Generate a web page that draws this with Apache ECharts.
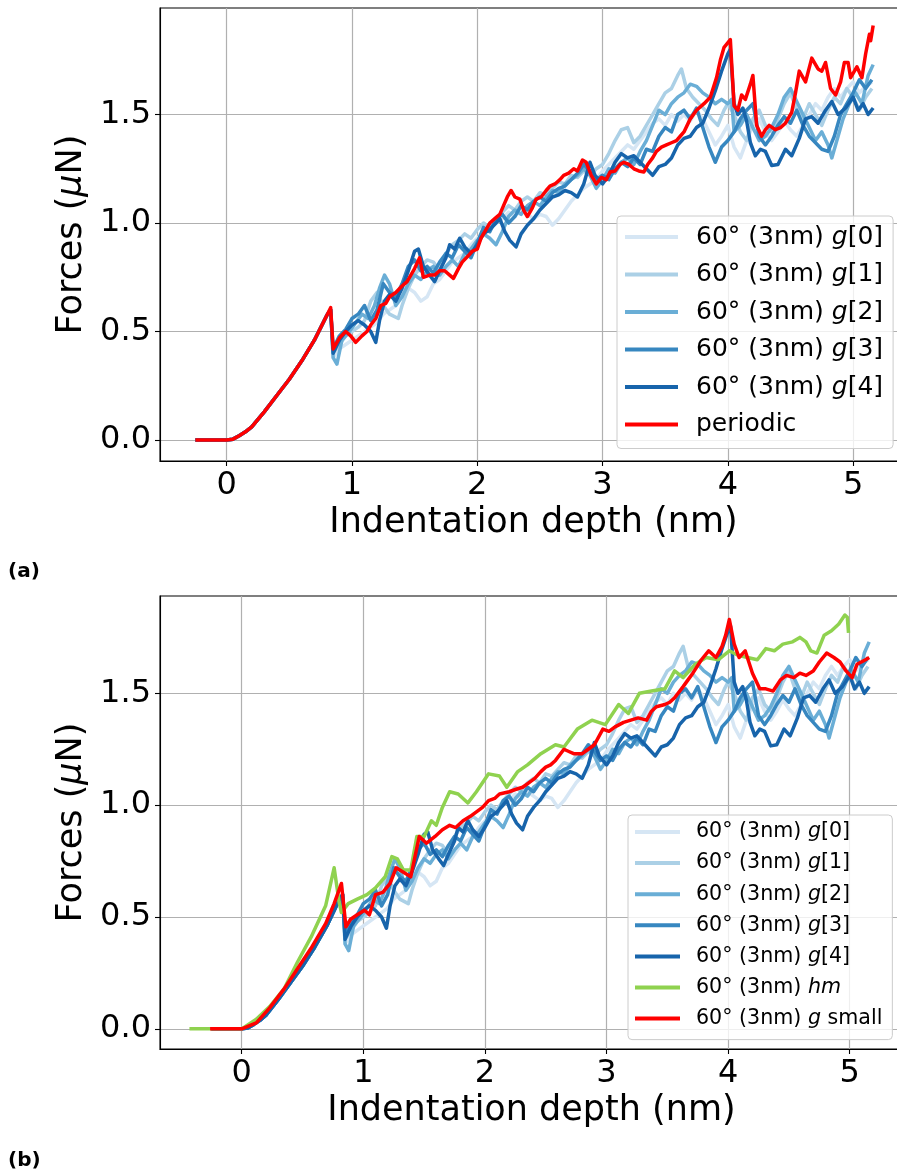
<!DOCTYPE html>
<html><head><meta charset="utf-8">
<script src="https://cdn.jsdelivr.net/npm/echarts@6/dist/echarts.min.js"></script>
<style>html,body{margin:0;padding:0;background:#fff}#c{width:897px;height:1176px}</style>
</head><body><div id="c"></div>
<script>
const xTicks = [0, 1, 2, 3, 4, 5];
const yTicks = [0, 0.5, 1.0, 1.5];
const gNames = ['60° (3nm) g[0]', '60° (3nm) g[1]', '60° (3nm) g[2]', '60° (3nm) g[3]', '60° (3nm) g[4]'];
const gColors = ['#d6e6f4', '#abd0e6', '#6aaed6', '#3787c0', '#1764ab'];
const periodicName = 'periodic';
const hmName = '60° (3nm) hm';
const smallName = '60° (3nm) g small';

const riseG = [[-0.25,0],[0,0],[0.05,0.004],[0.1,0.02],[0.15,0.038],[0.2,0.061],[0.3,0.13],[0.4,0.205],[0.5,0.28],[0.6,0.365],[0.7,0.46],[0.8,0.575],[0.83,0.60]];

const g0Tail = [[0.85,0.38],[0.9,0.42],[0.95,0.44],[1.0,0.46],[1.05,0.48],[1.1,0.50],[1.15,0.52],[1.2,0.54],[1.25,0.58],[1.3,0.60],[1.35,0.62],[1.4,0.66],[1.45,0.70],[1.5,0.68],[1.55,0.64],[1.6,0.66],[1.65,0.72],[1.7,0.74],[1.75,0.78],[1.8,0.82],[1.85,0.84],[1.9,0.86],[1.95,0.90],[2.0,0.93],[2.05,0.95],[2.1,0.98],[2.15,1.0],[2.2,1.02],[2.25,1.05],[2.3,1.03],[2.35,1.06],[2.4,1.04],[2.45,1.02],[2.5,1.04],[2.55,1.03],[2.6,0.99],[2.65,1.02],[2.7,1.06],[2.75,1.10],[2.8,1.13],[2.85,1.16],[2.9,1.18],[2.95,1.20],[3.0,1.24],[3.05,1.27],[3.1,1.30],[3.15,1.33],[3.2,1.36],[3.25,1.34],[3.3,1.38],[3.35,1.42],[3.4,1.46],[3.45,1.48],[3.5,1.45],[3.55,1.50],[3.6,1.47],[3.65,1.50],[3.7,1.47],[3.75,1.52],[3.8,1.48],[3.85,1.42],[3.9,1.36],[3.95,1.40],[4.0,1.45],[4.05,1.35],[4.1,1.30],[4.15,1.38],[4.2,1.45],[4.25,1.48],[4.3,1.42],[4.35,1.38],[4.4,1.42],[4.45,1.47],[4.5,1.43],[4.55,1.40],[4.6,1.45],[4.65,1.50],[4.7,1.55],[4.75,1.52],[4.8,1.58],[4.85,1.62],[4.9,1.58],[4.95,1.62],[5.0,1.65],[5.05,1.60],[5.1,1.63],[5.15,1.65]];

const g1Tail = [[0.85,0.40],[0.9,0.44],[0.95,0.48],[1.0,0.50],[1.05,0.52],[1.1,0.55],[1.15,0.64],[1.2,0.68],[1.25,0.62],[1.3,0.58],[1.37,0.56],[1.4,0.62],[1.45,0.70],[1.5,0.76],[1.55,0.80],[1.6,0.83],[1.65,0.82],[1.7,0.78],[1.75,0.86],[1.8,0.90],[1.85,0.92],[1.9,0.95],[1.95,0.93],[2.0,0.97],[2.05,1.0],[2.1,0.98],[2.15,1.02],[2.2,1.05],[2.25,1.08],[2.3,1.06],[2.35,1.10],[2.4,1.12],[2.45,1.10],[2.5,1.14],[2.55,1.13],[2.6,1.16],[2.65,1.19],[2.7,1.18],[2.75,1.22],[2.8,1.21],[2.85,1.24],[2.9,1.22],[2.95,1.25],[3.0,1.27],[3.05,1.32],[3.1,1.38],[3.15,1.43],[3.2,1.44],[3.25,1.37],[3.3,1.40],[3.35,1.45],[3.4,1.50],[3.45,1.55],[3.5,1.60],[3.55,1.62],[3.6,1.68],[3.63,1.71],[3.67,1.62],[3.72,1.58],[3.77,1.55],[3.82,1.52],[3.87,1.48],[3.92,1.45],[3.97,1.52],[4.0,1.55],[4.05,1.50],[4.1,1.42],[4.15,1.38],[4.2,1.48],[4.25,1.52],[4.3,1.45],[4.35,1.42],[4.4,1.48],[4.45,1.55],[4.5,1.60],[4.55,1.52],[4.6,1.48],[4.65,1.55],[4.7,1.50],[4.75,1.45],[4.8,1.52],[4.85,1.58],[4.9,1.55],[4.95,1.62],[5.0,1.58],[5.05,1.52],[5.1,1.58],[5.15,1.62]];

const g2Tail = [[0.85,0.38],[0.88,0.35],[0.92,0.46],[0.98,0.50],[1.03,0.54],[1.08,0.58],[1.13,0.56],[1.18,0.62],[1.22,0.70],[1.26,0.76],[1.3,0.72],[1.35,0.62],[1.4,0.66],[1.45,0.72],[1.5,0.76],[1.55,0.74],[1.6,0.78],[1.65,0.80],[1.7,0.76],[1.75,0.80],[1.8,0.83],[1.85,0.80],[1.9,0.86],[1.95,0.88],[2.0,0.92],[2.05,0.95],[2.1,0.93],[2.15,0.90],[2.2,0.96],[2.25,1.03],[2.3,1.06],[2.35,1.04],[2.4,1.08],[2.45,1.10],[2.5,1.08],[2.55,1.12],[2.6,1.15],[2.65,1.14],[2.7,1.18],[2.75,1.20],[2.8,1.22],[2.85,1.25],[2.9,1.22],[2.95,1.16],[3.0,1.20],[3.05,1.25],[3.1,1.23],[3.15,1.28],[3.2,1.30],[3.25,1.27],[3.3,1.33],[3.35,1.38],[3.4,1.45],[3.45,1.52],[3.5,1.50],[3.55,1.55],[3.6,1.58],[3.65,1.60],[3.7,1.64],[3.75,1.63],[3.8,1.60],[3.85,1.58],[3.9,1.55],[3.95,1.57],[4.0,1.55],[4.03,1.57],[4.05,1.42],[4.1,1.45],[4.15,1.50],[4.2,1.44],[4.25,1.38],[4.3,1.40],[4.35,1.44],[4.4,1.50],[4.45,1.58],[4.5,1.62],[4.55,1.56],[4.6,1.50],[4.65,1.44],[4.7,1.38],[4.75,1.42],[4.8,1.36],[4.83,1.30],[4.88,1.40],[4.92,1.48],[4.97,1.55],[5.02,1.60],[5.07,1.55],[5.12,1.68],[5.16,1.73]];

const g3Tail = [[0.85,0.42],[0.9,0.48],[0.95,0.51],[1.0,0.56],[1.05,0.58],[1.1,0.62],[1.15,0.55],[1.2,0.60],[1.25,0.72],[1.3,0.68],[1.35,0.66],[1.4,0.72],[1.45,0.80],[1.5,0.83],[1.55,0.78],[1.6,0.80],[1.65,0.77],[1.7,0.82],[1.75,0.86],[1.8,0.84],[1.85,0.90],[1.9,0.87],[1.95,0.84],[2.0,0.91],[2.05,0.98],[2.1,0.96],[2.15,1.02],[2.2,1.04],[2.25,1.00],[2.3,1.03],[2.35,1.08],[2.4,1.06],[2.45,1.10],[2.5,1.12],[2.55,1.10],[2.6,1.14],[2.65,1.16],[2.7,1.17],[2.75,1.20],[2.8,1.23],[2.85,1.27],[2.9,1.24],[2.95,1.20],[3.0,1.22],[3.05,1.20],[3.1,1.25],[3.15,1.28],[3.2,1.26],[3.25,1.30],[3.3,1.27],[3.35,1.34],[3.4,1.33],[3.45,1.40],[3.5,1.44],[3.55,1.42],[3.6,1.50],[3.65,1.52],[3.7,1.48],[3.75,1.53],[3.8,1.44],[3.85,1.35],[3.9,1.28],[3.95,1.35],[4.0,1.38],[4.05,1.42],[4.1,1.48],[4.15,1.52],[4.2,1.55],[4.25,1.40],[4.3,1.36],[4.35,1.40],[4.4,1.45],[4.45,1.49],[4.5,1.46],[4.55,1.52],[4.6,1.45],[4.65,1.40],[4.7,1.37],[4.75,1.34],[4.8,1.33],[4.85,1.40],[4.9,1.50],[4.95,1.55],[5.0,1.60],[5.05,1.66],[5.1,1.62],[5.15,1.66]];

const g4Tail = [[0.85,0.40],[0.9,0.46],[0.95,0.50],[1.0,0.53],[1.05,0.55],[1.1,0.53],[1.15,0.50],[1.19,0.45],[1.22,0.55],[1.26,0.64],[1.3,0.67],[1.35,0.64],[1.4,0.70],[1.45,0.78],[1.5,0.87],[1.53,0.88],[1.57,0.80],[1.62,0.76],[1.66,0.73],[1.7,0.78],[1.75,0.84],[1.78,0.90],[1.82,0.88],[1.86,0.93],[1.9,0.89],[1.95,0.86],[2.0,0.90],[2.05,0.95],[2.1,0.97],[2.15,1.0],[2.18,1.02],[2.22,0.96],[2.26,0.92],[2.31,0.89],[2.35,0.95],[2.4,0.99],[2.45,1.02],[2.5,1.06],[2.55,1.09],[2.6,1.12],[2.65,1.13],[2.7,1.15],[2.75,1.14],[2.8,1.12],[2.85,1.18],[2.9,1.28],[2.94,1.22],[3.0,1.18],[3.05,1.22],[3.1,1.28],[3.15,1.32],[3.2,1.30],[3.25,1.31],[3.3,1.28],[3.35,1.25],[3.4,1.22],[3.45,1.26],[3.5,1.27],[3.55,1.30],[3.6,1.36],[3.65,1.39],[3.7,1.40],[3.75,1.44],[3.8,1.46],[3.85,1.53],[3.9,1.61],[3.95,1.70],[4.0,1.78],[4.02,1.80],[4.05,1.55],[4.08,1.50],[4.12,1.53],[4.15,1.47],[4.18,1.37],[4.22,1.31],[4.26,1.34],[4.3,1.33],[4.35,1.265],[4.4,1.27],[4.46,1.34],[4.51,1.31],[4.57,1.39],[4.62,1.48],[4.67,1.49],[4.72,1.46],[4.78,1.52],[4.83,1.56],[4.88,1.50],[4.94,1.53],[5.0,1.58],[5.04,1.52],[5.08,1.55],[5.12,1.50],[5.16,1.53]];

const periodic = [[-0.25,0],[0,0],[0.05,0.004],[0.1,0.02],[0.15,0.038],[0.2,0.061],[0.3,0.13],[0.4,0.205],[0.5,0.28],[0.6,0.365],[0.7,0.46],[0.8,0.575],[0.83,0.61],[0.85,0.42],[0.9,0.47],[0.95,0.50],[0.99,0.48],[1.03,0.45],[1.08,0.48],[1.12,0.50],[1.15,0.53],[1.19,0.56],[1.23,0.62],[1.27,0.63],[1.3,0.66],[1.35,0.68],[1.4,0.71],[1.44,0.73],[1.5,0.79],[1.54,0.84],[1.57,0.75],[1.62,0.76],[1.66,0.76],[1.7,0.78],[1.74,0.78],[1.78,0.76],[1.81,0.745],[1.85,0.79],[1.88,0.82],[1.93,0.85],[1.96,0.87],[2.0,0.88],[2.03,0.93],[2.07,0.97],[2.1,1.0],[2.14,1.02],[2.18,1.04],[2.21,1.08],[2.24,1.12],[2.27,1.15],[2.3,1.12],[2.34,1.11],[2.37,1.06],[2.4,1.03],[2.44,1.07],[2.47,1.11],[2.51,1.12],[2.55,1.15],[2.58,1.17],[2.62,1.18],[2.66,1.20],[2.69,1.22],[2.73,1.23],[2.77,1.25],[2.8,1.24],[2.84,1.29],[2.87,1.28],[2.91,1.22],[2.95,1.18],[2.99,1.21],[3.03,1.20],[3.06,1.235],[3.1,1.24],[3.14,1.27],[3.17,1.28],[3.21,1.27],[3.25,1.25],[3.29,1.24],[3.33,1.235],[3.36,1.27],[3.4,1.30],[3.43,1.33],[3.47,1.35],[3.51,1.36],[3.55,1.37],[3.59,1.38],[3.62,1.40],[3.65,1.42],[3.7,1.48],[3.75,1.52],[3.81,1.55],[3.86,1.58],[3.91,1.67],[3.94,1.75],[3.97,1.81],[4.02,1.845],[4.05,1.54],[4.08,1.52],[4.11,1.59],[4.14,1.57],[4.18,1.64],[4.2,1.68],[4.23,1.45],[4.27,1.40],[4.3,1.43],[4.33,1.45],[4.38,1.43],[4.42,1.44],[4.46,1.46],[4.51,1.51],[4.54,1.60],[4.57,1.70],[4.62,1.65],[4.67,1.76],[4.72,1.71],[4.75,1.70],[4.78,1.74],[4.82,1.62],[4.86,1.59],[4.9,1.65],[4.93,1.74],[4.96,1.74],[4.98,1.67],[5.03,1.72],[5.07,1.67],[5.1,1.78],[5.13,1.87],[5.14,1.84],[5.16,1.91]];

const hm = [[-0.43,0],[-0.26,0],[0,0],[0.12,0.043],[0.23,0.10],[0.35,0.18],[0.46,0.30],[0.57,0.41],[0.69,0.55],[0.76,0.72],[0.80,0.57],[0.82,0.52],[0.876,0.56],[0.95,0.58],[1.03,0.60],[1.10,0.63],[1.18,0.68],[1.235,0.77],[1.28,0.76],[1.33,0.71],[1.39,0.71],[1.44,0.86],[1.50,0.86],[1.56,0.93],[1.60,0.91],[1.65,0.99],[1.71,1.06],[1.78,1.05],[1.86,1.01],[1.93,1.06],[2.03,1.14],[2.12,1.13],[2.18,1.08],[2.27,1.15],[2.35,1.18],[2.46,1.23],[2.58,1.27],[2.65,1.26],[2.76,1.34],[2.88,1.38],[2.99,1.36],[3.10,1.45],[3.18,1.41],[3.27,1.50],[3.37,1.51],[3.48,1.52],[3.56,1.60],[3.63,1.57],[3.73,1.63],[3.82,1.66],[3.92,1.65],[4.01,1.69],[4.08,1.67],[4.16,1.66],[4.24,1.65],[4.31,1.70],[4.38,1.69],[4.45,1.72],[4.53,1.73],[4.59,1.75],[4.64,1.73],[4.68,1.69],[4.73,1.68],[4.79,1.76],[4.85,1.78],[4.91,1.81],[4.96,1.85],[4.98,1.84],[4.99,1.77]];

const gSmall = [[-0.26,0],[0,0],[0.12,0.027],[0.23,0.094],[0.35,0.18],[0.46,0.27],[0.57,0.36],[0.69,0.47],[0.76,0.56],[0.82,0.65],[0.857,0.456],[0.895,0.49],[0.95,0.51],[1.01,0.53],[1.05,0.51],[1.10,0.60],[1.16,0.61],[1.22,0.65],[1.27,0.72],[1.33,0.70],[1.39,0.68],[1.46,0.86],[1.52,0.83],[1.59,0.86],[1.65,0.89],[1.71,0.91],[1.76,0.90],[1.82,0.93],[1.88,0.95],[1.93,0.97],[1.98,0.99],[2.03,1.02],[2.08,1.03],[2.12,1.05],[2.2,1.06],[2.25,1.07],[2.31,1.08],[2.36,1.10],[2.41,1.12],[2.46,1.15],[2.50,1.17],[2.54,1.18],[2.58,1.20],[2.65,1.25],[2.69,1.24],[2.73,1.23],[2.80,1.23],[2.85,1.25],[2.90,1.27],[2.97,1.34],[3.02,1.33],[3.07,1.35],[3.14,1.37],[3.2,1.38],[3.26,1.39],[3.33,1.38],[3.37,1.42],[3.41,1.44],[3.48,1.45],[3.52,1.46],[3.56,1.48],[3.63,1.53],[3.67,1.56],[3.71,1.59],[3.78,1.65],[3.84,1.69],[3.90,1.66],[3.95,1.71],[3.98,1.76],[4.01,1.83],[4.05,1.72],[4.09,1.66],[4.14,1.69],[4.2,1.59],[4.26,1.52],[4.31,1.52],[4.37,1.51],[4.43,1.56],[4.48,1.58],[4.54,1.57],[4.59,1.59],[4.64,1.58],[4.70,1.60],[4.75,1.64],[4.81,1.68],[4.87,1.66],[4.92,1.64],[4.97,1.60],[5.02,1.57],[5.06,1.63],[5.13,1.65],[5.16,1.66]];

const gData = [riseG.concat(g0Tail), riseG.concat(g1Tail), riseG.concat(g2Tail), riseG.concat(g3Tail), riseG.concat(g4Tail)];

const FONT = 'DejaVu Sans';
function line(name, data, color, idx) {
  return { type: 'line', name: name, data: data, xAxisIndex: idx, yAxisIndex: idx,
    showSymbol: false, symbol: 'none', animation: false, clip: true,
    lineStyle: { width: 3.5, color: color, join: 'round' }, itemStyle: { color: color },
    emphasis: { disabled: true } };
}
function xAxis(idx, min, max) {
  return { type: 'value', gridIndex: idx, min: min, max: max,
    axisLine: { show: true, onZero: false, lineStyle: { color: '#000', width: 1.1 } },
    axisTick: { show: true, customValues: xTicks, length: 5, lineStyle: { color: '#000', width: 1.1 } },
    axisLabel: { customValues: xTicks, fontSize: 32, color: '#000', fontFamily: FONT, margin: 9 },
    splitLine: { show: true, lineStyle: { color: '#b0b0b0', width: 1.2 } },
    name: 'Indentation depth (nm)', nameLocation: 'middle', nameGap: 44,
    nameTextStyle: { fontSize: 35, color: '#000', fontFamily: FONT } };
}
function yAxis(idx, min, max) {
  return { type: 'value', gridIndex: idx, min: min, max: max,
    axisLine: { show: true, onZero: false, lineStyle: { color: '#000', width: 1.1 } },
    axisTick: { show: true, customValues: yTicks, length: 5, lineStyle: { color: '#000', width: 1.1 } },
    axisLabel: { customValues: yTicks, fontSize: 32, color: '#000', fontFamily: FONT, margin: 9,
      formatter: function (v) { return v.toFixed(1); } },
    splitLine: { show: true, lineStyle: { color: '#b0b0b0', width: 1.2 } },
    name: 'Forces ({mu|μ}N)', nameLocation: 'middle', nameGap: 55,
    nameTextStyle: { fontSize: 35, color: '#000', fontFamily: FONT,
      rich: { mu: { fontSize: 35, fontStyle: 'italic', fontFamily: FONT, color: '#000' } } } };
}
function legendFmt(n) {
  return n.replace(' g[', ' {i|g}[').replace(' g small', ' {i|g} small').replace(' hm', ' {i|hm}');
}
function legend(names, left, top, fs, lh, gap, pad, handle, tgap) {
  return { show: true, orient: 'vertical', left: left, top: top, data: names, icon: 'rect',
    itemWidth: handle, itemHeight: 4, itemGap: gap, padding: pad, selectedMode: false,
    backgroundColor: 'rgba(255,255,255,0.8)', borderColor: '#cccccc', borderWidth: 1, borderRadius: 4,
    itemStyle: { borderWidth: 0 }, formatter: legendFmt,
    textStyle: { fontSize: fs, fontFamily: FONT, color: '#000', lineHeight: lh, padding: [0, 0, 0, tgap],
      rich: { i: { fontSize: fs, fontFamily: FONT, fontStyle: 'italic', color: '#000', lineHeight: lh } } } };
}

const series = [];
for (let i = 0; i < 5; i++) series.push(line(gNames[i], gData[i], gColors[i], 0));
series.push(line(periodicName, periodic, '#ff0000', 0));
for (let i = 0; i < 5; i++) series.push(line(gNames[i], gData[i], gColors[i], 1));
series.push(line(hmName, hm, '#8fd24f', 1));
series.push(line(smallName, gSmall, '#ff0000', 1));

const chart = echarts.init(document.getElementById('c'), null, { renderer: 'canvas' });
chart.setOption({
  animation: false,
  backgroundColor: '#fff',
  grid: [
    { left: 160, top: 8, width: 747, height: 453, show: true, borderColor: '#000', borderWidth: 1.1, containLabel: false, outerBoundsMode: 'none' },
    { left: 160, top: 596, width: 743, height: 453, show: true, borderColor: '#000', borderWidth: 1.1, containLabel: false, outerBoundsMode: 'none' }
  ],
  xAxis: [xAxis(0, -0.532, 5.43), xAxis(1, -0.672, 5.438)],
  yAxis: [yAxis(0, -0.0967, 1.991), yAxis(1, -0.09, 1.935)],
  legend: [
    legend(gNames.concat([periodicName]), 617, 216, 25, 30, 7.5, [6, 10, 9, 8], 53, 13),
    legend(gNames.concat([hmName, smallName]), 628, 815, 20.6, 24, 7.1, [5, 10, 9, 7], 45, 11)
  ],
  graphic: [
    { type: 'text', left: 8, top: 562, style: { text: '(a)', font: 'bold 20px "DejaVu Sans"', fill: '#000' } },
    { type: 'text', left: 8, top: 1151, style: { text: '(b)', font: 'bold 20px "DejaVu Sans"', fill: '#000' } }
  ],
  series: series
});
</script>
</body></html>
